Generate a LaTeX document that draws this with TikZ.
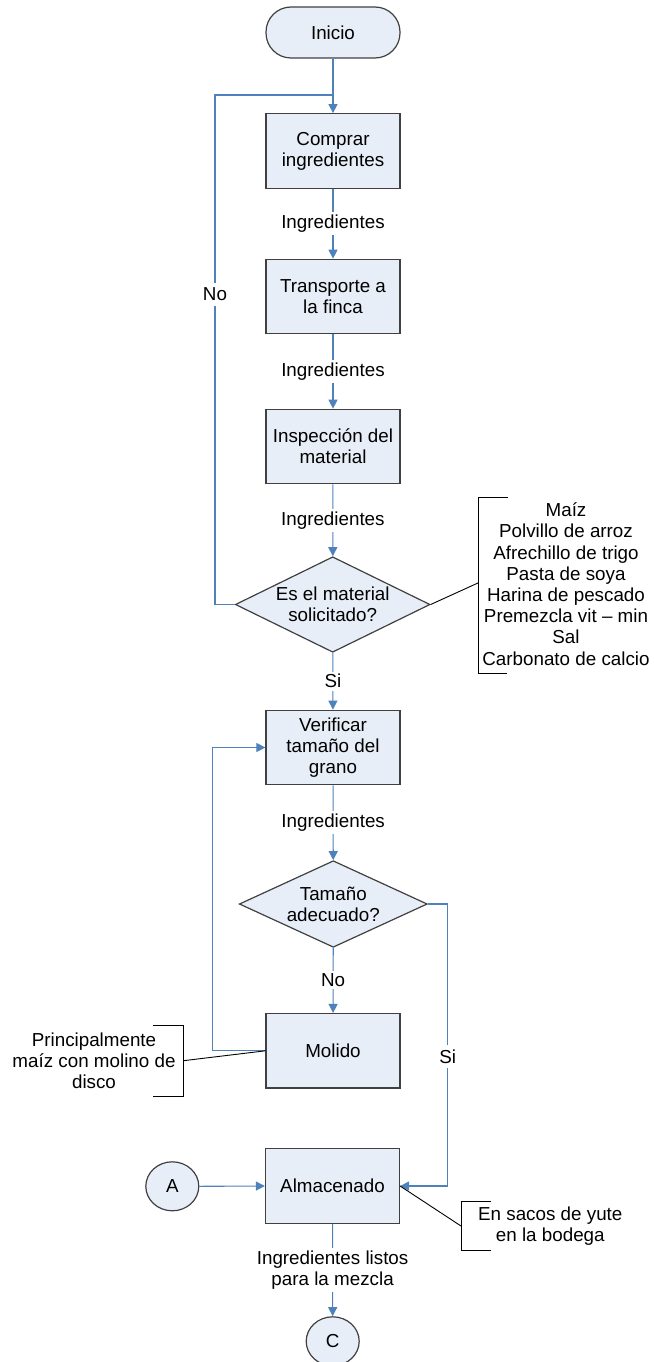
\documentclass[tikz,border=0pt]{standalone}
\usepackage{fontspec}
\setmainfont{Liberation Sans}
\usetikzlibrary{shapes.geometric,arrows.meta}
\definecolor{boxfill}{RGB}{232,238,247}
\definecolor{boxline}{RGB}{64,64,64}
\definecolor{flow}{RGB}{79,129,189}
\begin{document}
\begin{tikzpicture}[x=1pt,y=-1pt,
  every node/.style={font=\fontsize{18.8}{21.2}\selectfont},
  proc/.style={rectangle, draw=boxline, fill=boxfill, line width=1.2pt,
    minimum width=134pt, minimum height=74.5pt, inner sep=0pt, align=center},
  term/.style={proc, rounded corners=25pt, minimum height=51pt},
  decision/.style={diamond, draw=boxline, fill=boxfill, line width=1.2pt, inner sep=0pt},
  conn/.style={ellipse, draw=boxline, fill=boxfill, line width=1.2pt,
    minimum width=53pt, minimum height=49pt, inner sep=0pt},
  flowline/.style={draw=flow, line width=1.1pt, -{Triangle[length=9pt,width=9pt]}},
  flowplain/.style={draw=flow, line width=1.1pt},
  lbl/.style={fill=white, inner sep=2.5pt, align=center},
  note/.style={align=center, inner sep=0pt},
  notewire/.style={draw=black, line width=0.9pt}]

\useasboundingbox (0,0) rectangle (654,1362);
\clip (0,0) rectangle (654,1362);

% main column
\node[term] (start) at (333,32.5) {Inicio};
\node[proc] (buy) at (333,151) {Comprar\\ingredientes};
\node[proc] (trans) at (333,296.5) {Transporte a\\la finca};
\node[proc] (insp) at (333,446.5) {Inspección del\\material};
\node[decision, minimum width=194.7pt, minimum height=95.5pt] (ok) at (332.7,604.5) {};
\node[note] (oktext) at (ok) {Es el material\\solicitado?};
\node[proc] (size) at (333,747.5) {Verificar\\tamaño del\\grano};
\node[decision, minimum width=188pt, minimum height=86.6pt] (fit) at (333.3,904) {};
\node[note] (fittext) at (fit) {Tamaño\\adecuado?};
\node[proc] (mill) at (333,1050.8) {Molido};
\node[proc] (store) at (332.5,1186) {Almacenado};
\node[conn] (A) at (172.3,1186.3) {A};
\node[conn] (C) at (332.7,1341.3) {C};

% loop and corner points
\coordinate (join) at (333,95);
\coordinate (noTop) at (215,95);
\coordinate (noBot) at (215,604.5);
\coordinate (millL) at (212.3,1050.8);
\coordinate (sizeL) at (212.3,747.5);
\coordinate (fitR) at (447.7,904);
\coordinate (storeR) at (447.7,1186);

% flow connectors
\draw[flowline] (start.south) -- (buy.north);
\draw[flowline] (buy) -- node[lbl]{Ingredientes} (trans);
\draw[flowline] (trans) -- node[lbl]{Ingredientes} (insp);
\draw[flowline] (insp) -- node[lbl]{Ingredientes} (ok);
\draw[flowline] (ok) -- node[lbl]{Si} (size);
\draw[flowline] (size) -- node[lbl]{Ingredientes} (fit);
\draw[flowline] (fit) -- node[lbl]{No} (mill);
\draw[flowline] (store) -- node[lbl]{Ingredientes listos\\para la mezcla} (C);
\draw[flowplain] (ok.west) -- (noBot) -- node[lbl, inner ysep=5pt, pos=0.609]{No} (noTop) -- (join);
\draw[flowline] (mill.west) -- (millL) -- (sizeL) -- (size.west);
\draw[flowline] (fit.east) -- (fitR) -- node[lbl, inner ysep=5pt, pos=0.541]{Si} (storeR) -- (store.east);
\draw[flowline] (A.east) -- (store.west);

% annotation: ingredient list
\coordinate (brA1) at (508,497);
\coordinate (brA2) at (478.6,497);
\coordinate (brA3) at (478.6,673);
\coordinate (brA4) at (507,673);
\coordinate (brAm) at (478.6,582.7);
\draw[notewire] (brA1) -- (brA2) -- (brA3) -- (brA4);
\draw[notewire] (ok.east) -- (brAm);
\node[note] (list) at (566,584) {Maíz\\Polvillo de arroz\\Afrechillo de trigo\\Pasta de soya\\Harina de pescado\\Premezcla vit -- min\\Sal\\Carbonato de calcio};

% annotation: milling
\coordinate (brB1) at (153,1025);
\coordinate (brB2) at (183.3,1025);
\coordinate (brB3) at (183.3,1096);
\coordinate (brB4) at (153,1096);
\coordinate (brBm) at (183.3,1060.7);
\draw[notewire] (brB1) -- (brB2) -- (brB3) -- (brB4);
\draw[notewire] (mill.west) -- (brBm);
\node[note] (milltext) at (94,1061) {Principalmente\\maíz con molino de\\disco};

% annotation: storage
\coordinate (brC1) at (490.7,1201.7);
\coordinate (brC2) at (461,1201.7);
\coordinate (brC3) at (461,1250.7);
\coordinate (brC4) at (490.7,1250.7);
\coordinate (brCm) at (461,1226);
\draw[notewire] (brC1) -- (brC2) -- (brC3) -- (brC4);
\draw[notewire] (store.east) -- (brCm);
\node[note] (storetext) at (550.3,1226) {En sacos de yute\\en la bodega};
\end{tikzpicture}
\end{document}
